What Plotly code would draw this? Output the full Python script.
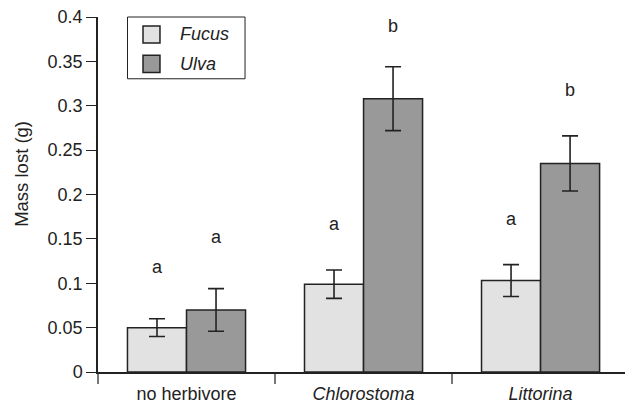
import plotly.graph_objects as go

# Mean algal mass lost per herbivore treatment, with standard errors
treatments = ["no herbivore", "<i>Chlorostoma</i>", "<i>Littorina</i>"]
species = ["<i>Fucus</i>", "<i>Ulva</i>"]
fucus_mean = [0.050, 0.099, 0.103]
fucus_se = [0.010, 0.016, 0.018]
ulva_mean = [0.070, 0.308, 0.235]
ulva_se = [0.024, 0.036, 0.031]

# Significance letters and the height at which each is printed
fucus_letters = ["a", "a", "a"]
fucus_letter_y = [0.118, 0.167, 0.172]
ulva_letters = ["a", "b", "b"]
ulva_letter_y = [0.152, 0.390, 0.318]

FONT = "Liberation Sans, Arial, Helvetica, sans-serif"
INK = "#222222"
fills = ["#e2e2e2", "#999999"]
TXT = 18

fig = go.Figure()
for name, mean, se, fill in [
    (species[0], fucus_mean, fucus_se, fills[0]),
    (species[1], ulva_mean, ulva_se, fills[1]),
]:
    fig.add_trace(go.Bar(
        x=treatments, y=mean, name=name, showlegend=False,
        marker=dict(color=fill, line=dict(color=INK, width=1.5)),
        error_y=dict(type="data", array=se, visible=True,
                     color=INK, thickness=1.6, width=8),
    ))

# letters sit above each bar of the pair
bar_px = 59
for letters, ys, shift in [
    (fucus_letters, fucus_letter_y, -bar_px / 2),
    (ulva_letters, ulva_letter_y, bar_px / 2),
]:
    for cat, txt, yv in zip(treatments, letters, ys):
        fig.add_annotation(x=cat, y=yv, text=txt, showarrow=False,
                           xshift=shift, font=dict(family=FONT, size=TXT, color=INK))

# y-axis title
fig.add_annotation(
    xref="paper", yref="paper", x=-0.145, y=0.557, xanchor="center", yanchor="middle",
    text="Mass lost (g)", textangle=-90, showarrow=False,
    font=dict(family=FONT, size=18.5, color=INK),
)

# boxed key in the upper-left corner of the plot area
fig.add_shape(type="rect", xref="paper", yref="paper",
              x0=0.056, x1=0.279, y0=0.826, y1=1.0,
              line=dict(color=INK, width=1), fillcolor="white", layer="above")
key_rows = [0.951, 0.868]
for name, fill, yc in zip(species, fills, key_rows):
    fig.add_shape(type="rect", xref="paper", yref="paper",
                  x0=0.0854, x1=0.1176, y0=yc - 0.024, y1=yc + 0.024,
                  line=dict(color=INK, width=1.5), fillcolor=fill, layer="above")
    fig.add_annotation(xref="paper", yref="paper", x=0.151, y=yc,
                       xanchor="left", yanchor="middle", text=name, showarrow=False,
                       font=dict(family=FONT, size=TXT, color=INK))

fig.update_layout(
    width=625, height=406,
    margin=dict(l=98, r=0, t=17, b=34),
    paper_bgcolor="white", plot_bgcolor="white",
    barmode="group", bargap=0.333, bargroupgap=0,
    font=dict(family=FONT, size=TXT, color=INK),
    showlegend=False,
    xaxis=dict(
        type="category", range=[-0.5, 2.477],
        showline=True, linecolor=INK, linewidth=1.5,
        ticks="outside", tickson="boundaries", ticklen=10,
        tickcolor="#777777", tickwidth=1.5,
        showgrid=False, zeroline=False, ticklabelstandoff=5,
        tickfont=dict(family=FONT, size=TXT, color=INK),
    ),
    yaxis=dict(
        range=[0, 0.4], tickvals=[0, 0.05, 0.1, 0.15, 0.2, 0.25, 0.3, 0.35, 0.4],
        ticktext=["0", "0.05", "0.1", "0.15", "0.2", "0.25", "0.3", "0.35", "0.4"],
        showline=True, linecolor=INK, linewidth=1.5,
        ticks="outside", ticklen=10, tickcolor=INK, tickwidth=1.2,
        showgrid=False, zeroline=False,
        tickfont=dict(family=FONT, size=TXT, color=INK),
    ),
)

fig.write_html("out.html")
